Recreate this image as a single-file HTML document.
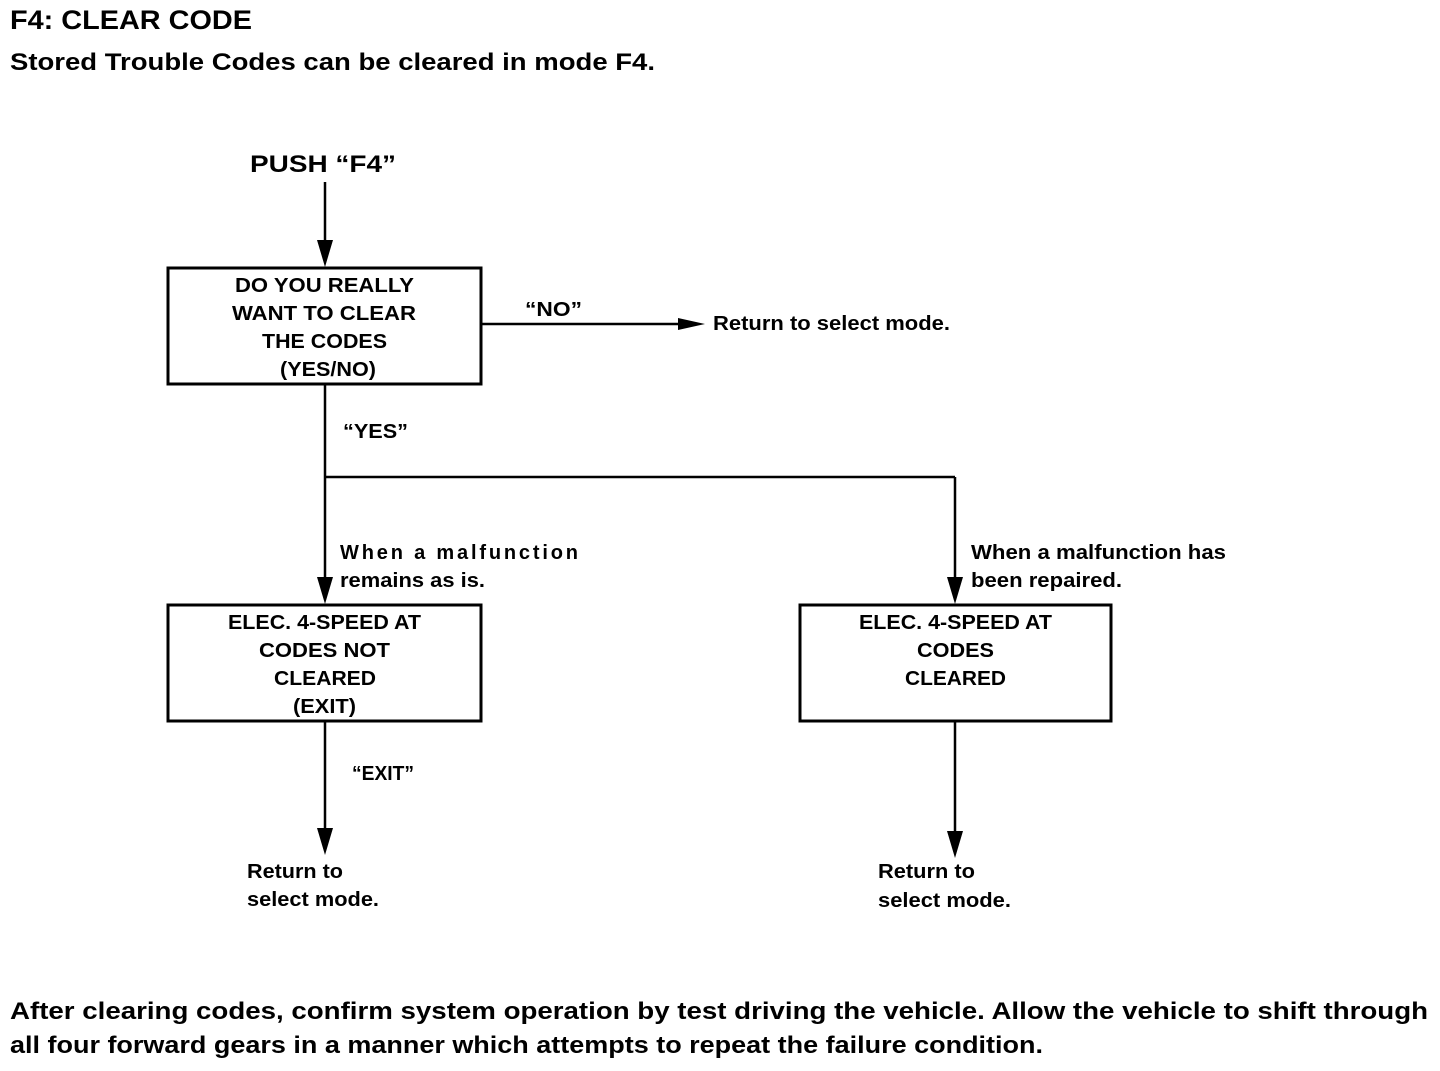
<!DOCTYPE html>
<html><head><style>
body{margin:0;background:#fff}
svg text{font-family:"Liberation Sans",Arial,sans-serif;fill:#000;font-weight:bold}
</style></head><body>
<svg width="1440" height="1066" viewBox="0 0 1440 1066" xmlns="http://www.w3.org/2000/svg">
<g lengthAdjust="spacingAndGlyphs">
<text x="10" y="29" font-size="27" textLength="242" lengthAdjust="spacingAndGlyphs">F4: CLEAR CODE</text>
<text x="10" y="70" font-size="24" textLength="645" lengthAdjust="spacingAndGlyphs">Stored Trouble Codes can be cleared in mode F4.</text>
<text x="250" y="172" font-size="24" textLength="146" lengthAdjust="spacingAndGlyphs">PUSH “F4”</text>
</g>
<g stroke="#000" stroke-width="2.5" fill="none">
<line x1="325" y1="182" x2="325" y2="245"/>
<rect x="168" y="268" width="313" height="116" stroke-width="3"/>
<line x1="482" y1="324" x2="682" y2="324"/>
<line x1="325" y1="385" x2="325" y2="580"/>
<line x1="325" y1="477" x2="955" y2="477"/>
<line x1="955" y1="477" x2="955" y2="580"/>
<rect x="168" y="605" width="313" height="116" stroke-width="3"/>
<rect x="800" y="605" width="311" height="116" stroke-width="3"/>
<line x1="325" y1="722" x2="325" y2="830"/>
<line x1="955" y1="722" x2="955" y2="833"/>
</g>
<g fill="#000">
<polygon points="317,240 333,240 325,267"/>
<polygon points="317,577 333,577 325,604"/>
<polygon points="947,577 963,577 955,604"/>
<polygon points="317,828 333,828 325,855"/>
<polygon points="947,831 963,831 955,858"/>
<polygon points="678,318 705,324 678,330"/>
</g>
<g font-size="20">
<text x="235" y="292" textLength="179" lengthAdjust="spacingAndGlyphs">DO YOU REALLY</text>
<text x="232" y="320" textLength="184" lengthAdjust="spacingAndGlyphs">WANT TO CLEAR</text>
<text x="262" y="348" textLength="125" lengthAdjust="spacingAndGlyphs">THE CODES</text>
<text x="280" y="376" textLength="96" lengthAdjust="spacingAndGlyphs">(YES/NO)</text>
<text x="228" y="629" textLength="193" lengthAdjust="spacingAndGlyphs">ELEC. 4-SPEED AT</text>
<text x="259" y="657" textLength="131" lengthAdjust="spacingAndGlyphs">CODES NOT</text>
<text x="274" y="685" textLength="102" lengthAdjust="spacingAndGlyphs">CLEARED</text>
<text x="293" y="713" textLength="63" lengthAdjust="spacingAndGlyphs">(EXIT)</text>
<text x="859" y="629" textLength="193" lengthAdjust="spacingAndGlyphs">ELEC. 4-SPEED AT</text>
<text x="917" y="657" textLength="77" lengthAdjust="spacingAndGlyphs">CODES</text>
<text x="905" y="685" textLength="101" lengthAdjust="spacingAndGlyphs">CLEARED</text>
<text x="525" y="316" textLength="57" lengthAdjust="spacingAndGlyphs">“NO”</text>
<text x="713" y="330" textLength="237" lengthAdjust="spacingAndGlyphs">Return to select mode.</text>
<text x="343" y="438" textLength="65" lengthAdjust="spacingAndGlyphs">“YES”</text>
<text x="340" y="559" textLength="238" lengthAdjust="spacing">When a malfunction</text>
<text x="340" y="587" textLength="145" lengthAdjust="spacingAndGlyphs">remains as is.</text>
<text x="971" y="559" textLength="255" lengthAdjust="spacingAndGlyphs">When a malfunction has</text>
<text x="971" y="587" textLength="151" lengthAdjust="spacingAndGlyphs">been repaired.</text>
<text x="352" y="780" textLength="62" lengthAdjust="spacingAndGlyphs">“EXIT”</text>
<text x="247" y="878" textLength="96" lengthAdjust="spacingAndGlyphs">Return to</text>
<text x="247" y="906" textLength="132" lengthAdjust="spacingAndGlyphs">select mode.</text>
<text x="878" y="878" textLength="97" lengthAdjust="spacingAndGlyphs">Return to</text>
<text x="878" y="907" textLength="133" lengthAdjust="spacingAndGlyphs">select mode.</text>
</g>
<text x="10" y="1019" font-size="24" textLength="1418" lengthAdjust="spacingAndGlyphs">After clearing codes, confirm system operation by test driving the vehicle.  Allow the vehicle to shift through</text>
<text x="10" y="1053" font-size="24" textLength="1033" lengthAdjust="spacingAndGlyphs">all four forward gears in a manner which attempts to repeat the failure condition.</text>
</svg>
</body></html>
